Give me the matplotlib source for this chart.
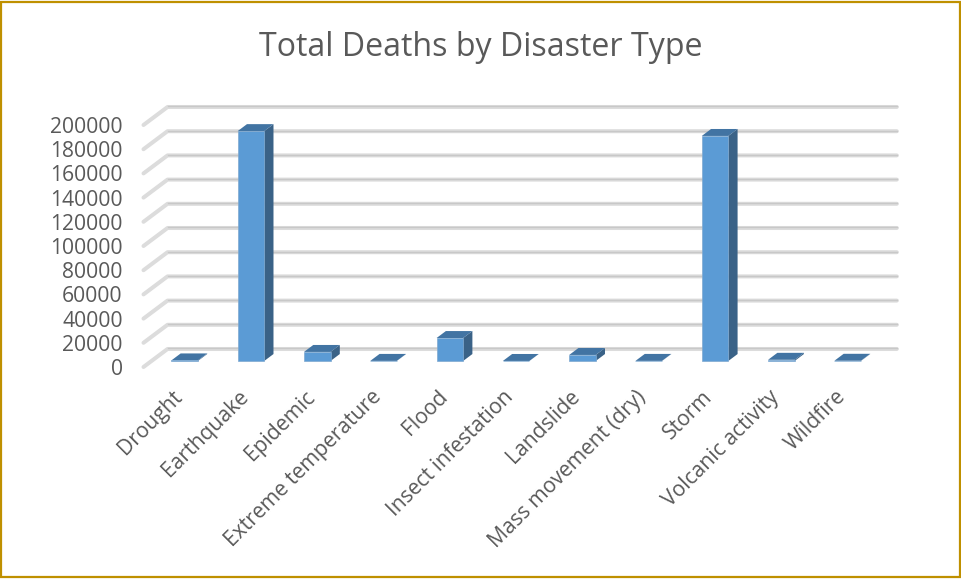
import matplotlib
matplotlib.use("Agg")
import matplotlib.pyplot as plt
from matplotlib.patches import Polygon, Rectangle
from matplotlib.transforms import ScaledTranslation

categories = ["Drought", "Earthquake", "Epidemic", "Extreme temperature", "Flood",
              "Insect infestation", "Landslide", "Mass movement (dry)", "Storm",
              "Volcanic activity", "Wildfire"]
deaths = [500, 190000, 7500, 100, 19000, 50, 5000, 100, 186000, 1000, 200]
y_ticks = list(range(0, 200001, 20000))

TEXT = "#595959"
FRONT = "#5B9BD5"
TOP = "#4274A3"
SIDE = "#3A6287"

# oblique depth of the floor, in data units per full depth
DEPTH_X = 24 / 66.3
DEPTH_Y = 18 / 242 * 200000
HALF = 0.2
BAR_FRONT = 1 / 3
BAR_BACK = 0.72

plt.rcParams["font.family"] = ["Open Sans", "DejaVu Sans"]

fig = plt.figure(figsize=(9.61, 5.80), dpi=100)
fig.patch.set_facecolor("white")
fig.add_artist(Rectangle((0.0015, 0.006), 0.9975, 0.991, transform=fig.transFigure,
                         fill=False, edgecolor="#BF9000", linewidth=1.6))

ax = fig.add_axes([143.5 / 961, (580 - 367) / 580, 729.3 / 961, 242 / 580])
ax.set_xlim(-0.5, 10.5)
ax.set_ylim(0, 200000)
for spine in ax.spines.values():
    spine.set_visible(False)


def project(x, v, d):
    return x + d * DEPTH_X, v + d * DEPTH_Y


# back wall lines and the slanted side wall lines
for v in y_ticks:
    x0, y0 = project(-0.5, v, 0)
    x1, y1 = project(-0.5, v, 1)
    x2, y2 = project(10.5, v, 1)
    ax.plot([x0, x1, x2], [y0, y1, y2], color="#DCDCDC", lw=2.9, clip_on=False,
            solid_capstyle="round", solid_joinstyle="round", zorder=1)
    ax.plot([x1, x2], [y1 + 500, y2 + 500], color="#C8C8C8", lw=1.0, clip_on=False, zorder=1.1)

for i, v in enumerate(deaths):
    xl, xr = i - HALF, i + HALF
    a = project(xl, v, BAR_FRONT)
    b = project(xr, v, BAR_FRONT)
    c = project(xr, v, BAR_BACK)
    d = project(xl, v, BAR_BACK)
    base_l = project(xl, 0, BAR_FRONT)
    base_r = project(xr, 0, BAR_FRONT)
    base_c = project(xr, 0, BAR_BACK)
    ax.add_patch(Polygon([base_r, base_c, c, b], facecolor=SIDE, edgecolor="none",
                         clip_on=False, zorder=3))
    ax.add_patch(Polygon([a, b, c, d], facecolor=TOP, edgecolor="none",
                         clip_on=False, zorder=3))
    ax.add_patch(Polygon([base_l, base_r, b, a], facecolor=FRONT, edgecolor="#7FA9D0",
                         linewidth=0.5, clip_on=False, zorder=4))

ax.set_yticks(y_ticks)
ax.set_yticklabels([str(v) for v in y_ticks], fontsize=15.2, color=TEXT)
ax.set_xticks(range(len(categories)))
ax.set_xticklabels(categories, rotation=45, ha="right", va="top",
                   rotation_mode="anchor", fontsize=15.2, color=TEXT)
ax.tick_params(axis="y", length=0, pad=15)
ax.tick_params(axis="x", length=0, pad=14)

# nudge category labels left of their ticks
shift = ScaledTranslation(-5 / 100, 0, fig.dpi_scale_trans)
for label in ax.get_xticklabels():
    label.set_transform(label.get_transform() + shift)

fig.text(0.5, 1 - 48 / 580, "Total Deaths by Disaster Type", ha="center", va="center",
         fontsize=23.1, color=TEXT)

fig.savefig("out.png", dpi=100)
